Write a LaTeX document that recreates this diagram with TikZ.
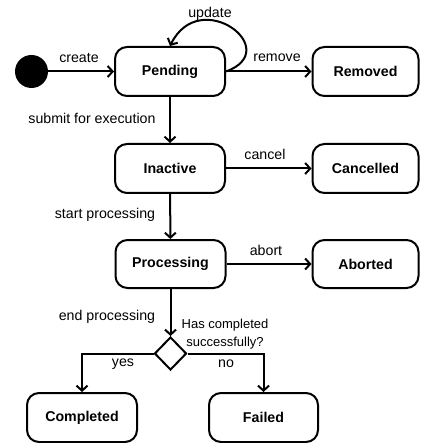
\documentclass[tikz,border=0pt]{standalone}
\usepackage{fontspec}
\setmainfont{Liberation Sans}
\usetikzlibrary{arrows.meta,shapes.geometric}
\begin{document}
\begin{tikzpicture}[x=1pt,y=1pt,
  state/.style={draw,line width=2pt,rounded corners=12pt,minimum width=110pt,minimum height=49pt,
    font=\fontsize{14.2}{16}\selectfont\bfseries,inner sep=0pt},
  lbl/.style={font=\fontsize{14.2}{16}\selectfont,inner sep=0pt},
  conn/.style={line width=2pt,-{Straight Barb[length=5pt,width=11pt]}}]
\useasboundingbox (0,0) rectangle (420,-443);
\node[circle,fill=black,minimum size=33pt,inner sep=0pt] (start) at (31.5,-71.5) {};
\node[state] (pending) at (170,-71.5) {Pending};
\node[state,minimum width=106pt] (removed) at (365.5,-71.5) {Removed};
\node[state] (inactive) at (170,-168.5) {Inactive};
\node[state,minimum width=106pt] (cancelled) at (365.5,-168.5) {Cancelled};
\node[state,minimum height=48pt] (processing) at (170.5,-264) {Processing};
\node[state,minimum width=106pt,minimum height=48pt] (aborted) at (365.5,-264) {Aborted};
\node[diamond,draw,line width=2pt,minimum width=32pt,minimum height=33pt,inner sep=0pt] (dec) at (170.5,-353.5) {};
\node[state] (completed) at (82,-417.5) {Completed};
\node[state,minimum width=109pt] (failed) at (263.5,-417.5) {Failed};

\draw[conn] (start) -- (pending);
\node[lbl] (lcreate) at (79,-58) {create};
\draw[conn] (pending) -- (removed);
\node[lbl] (lremove) at (277,-58) {remove};
\draw[conn] (pending.east) .. controls (285,-50) and (200,15) .. (pending.north);
\node[lbl] (lupdate) at (210,-14) {update};
\draw[conn] (pending) -- (inactive);
\node[lbl] (lsubmit) at (92,-118) {submit for execution};
\draw[conn] (inactive) -- (cancelled);
\node[lbl] (lcancel) at (265,-154) {cancel};
\draw[conn] (inactive) -- (processing);
\node[lbl] (lstart) at (105,-215) {start processing};
\draw[conn] (processing) -- (aborted);
\node[lbl] (labort) at (266,-250) {abort};
\draw[conn] (processing) -- (dec);
\node[lbl] (lend) at (107,-317) {end processing};
\node[font=\fontsize{13}{18}\selectfont,align=center,inner sep=0pt] (lq) at (225,-334) {Has completed\\successfully?};
\draw[conn] (dec.west) -| (completed.north);
\node[lbl] (lyes) at (123,-364) {yes};
\draw[conn] (dec.east) -| (failed.north);
\node[lbl] (lno) at (226,-364) {no};
\end{tikzpicture}
\end{document}
